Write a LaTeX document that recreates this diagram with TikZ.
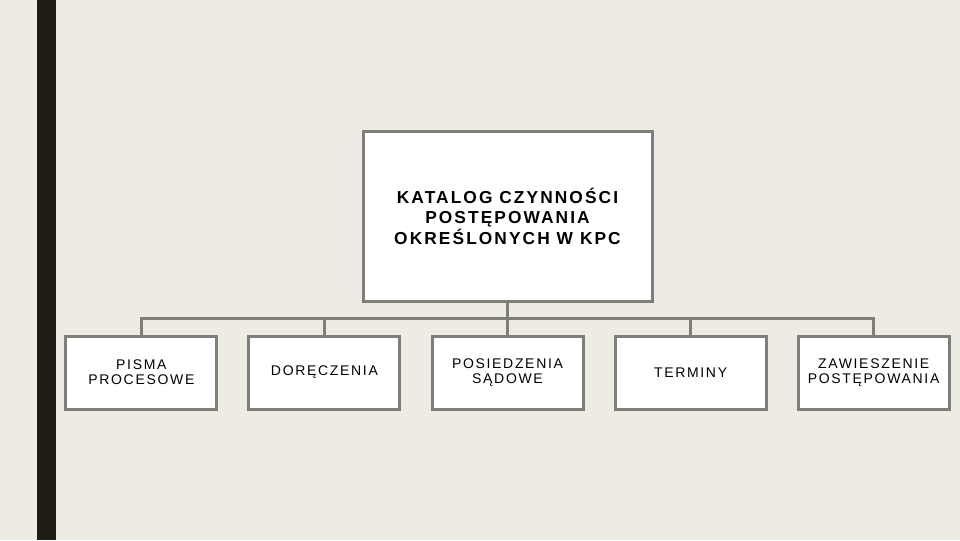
\documentclass[tikz,border=0pt]{standalone}
\usepackage{fontspec}
\setmainfont{Liberation Sans}
\newfontfamily\spacedfont[LetterSpace=12]{Liberation Sans}
\usepackage{tikz}
\usetikzlibrary{positioning}
\definecolor{paper}{HTML}{EEEBE4}
\definecolor{darkbar}{HTML}{1D1D12}
\definecolor{frame}{HTML}{7F7F79}
\newcommand{\tightlines}{\setlength{\lineskiplimit}{-20pt}}% keeps accented lines evenly spaced
\tikzset{
    x=0.75pt, y=-0.75pt, % one unit is one pixel of the slide, y goes down
    node distance=137.3pt, % distance between the centres of two boxes in the lower row
    box/.style={draw=frame, line width=2.25pt, fill=white, align=center, inner sep=0pt}, % every box
    topbox/.style={box, minimum width=216.75pt, minimum height=127.5pt, font={\spacedfont\bfseries\fontsize{13}{15.4}\selectfont\tightlines}}, % the main box
    subbox/.style={box, minimum width=113.25pt, minimum height=54.75pt, font={\spacedfont\fontsize{10.5}{11.25}\selectfont\tightlines}}, % the boxes below
    link/.style={draw=frame, line width=2.25pt}, % the connectors
    }

\begin{document}
\begin{tikzpicture}
            \fill[paper] (0,0) rectangle (960,540);
            \fill[darkbar] (37,0) rectangle (56,540);
            \node[topbox] (katalog) at (507.5,216) {KATALOG CZYNNOŚCI\\POSTĘPOWANIA\\OKREŚLONYCH W KPC};
            \node[subbox] (posiedzenia) at (507.5,372.5) {POSIEDZENIA\\SĄDOWE};
            \node[subbox, left of=posiedzenia] (doreczenia) {DORĘCZENIA};
            \node[subbox, left of=doreczenia] (pisma) {PISMA\\PROCESOWE};
            \node[subbox, right of=posiedzenia] (terminy) {TERMINY};
            \node[subbox, right of=terminy] (zawieszenie) {ZAWIESZENIE\\POSTĘPOWANIA};
            \coordinate (bus) at (507.5,318);
            \draw[link] (katalog.south) -- (bus)
            (pisma.north) |- (bus) -| (zawieszenie.north)
            (doreczenia.north) -- (doreczenia.north |- bus)
            (posiedzenia.north) -- (bus)
            (terminy.north) -- (terminy.north |- bus);
            \end{tikzpicture}
\end{document}
